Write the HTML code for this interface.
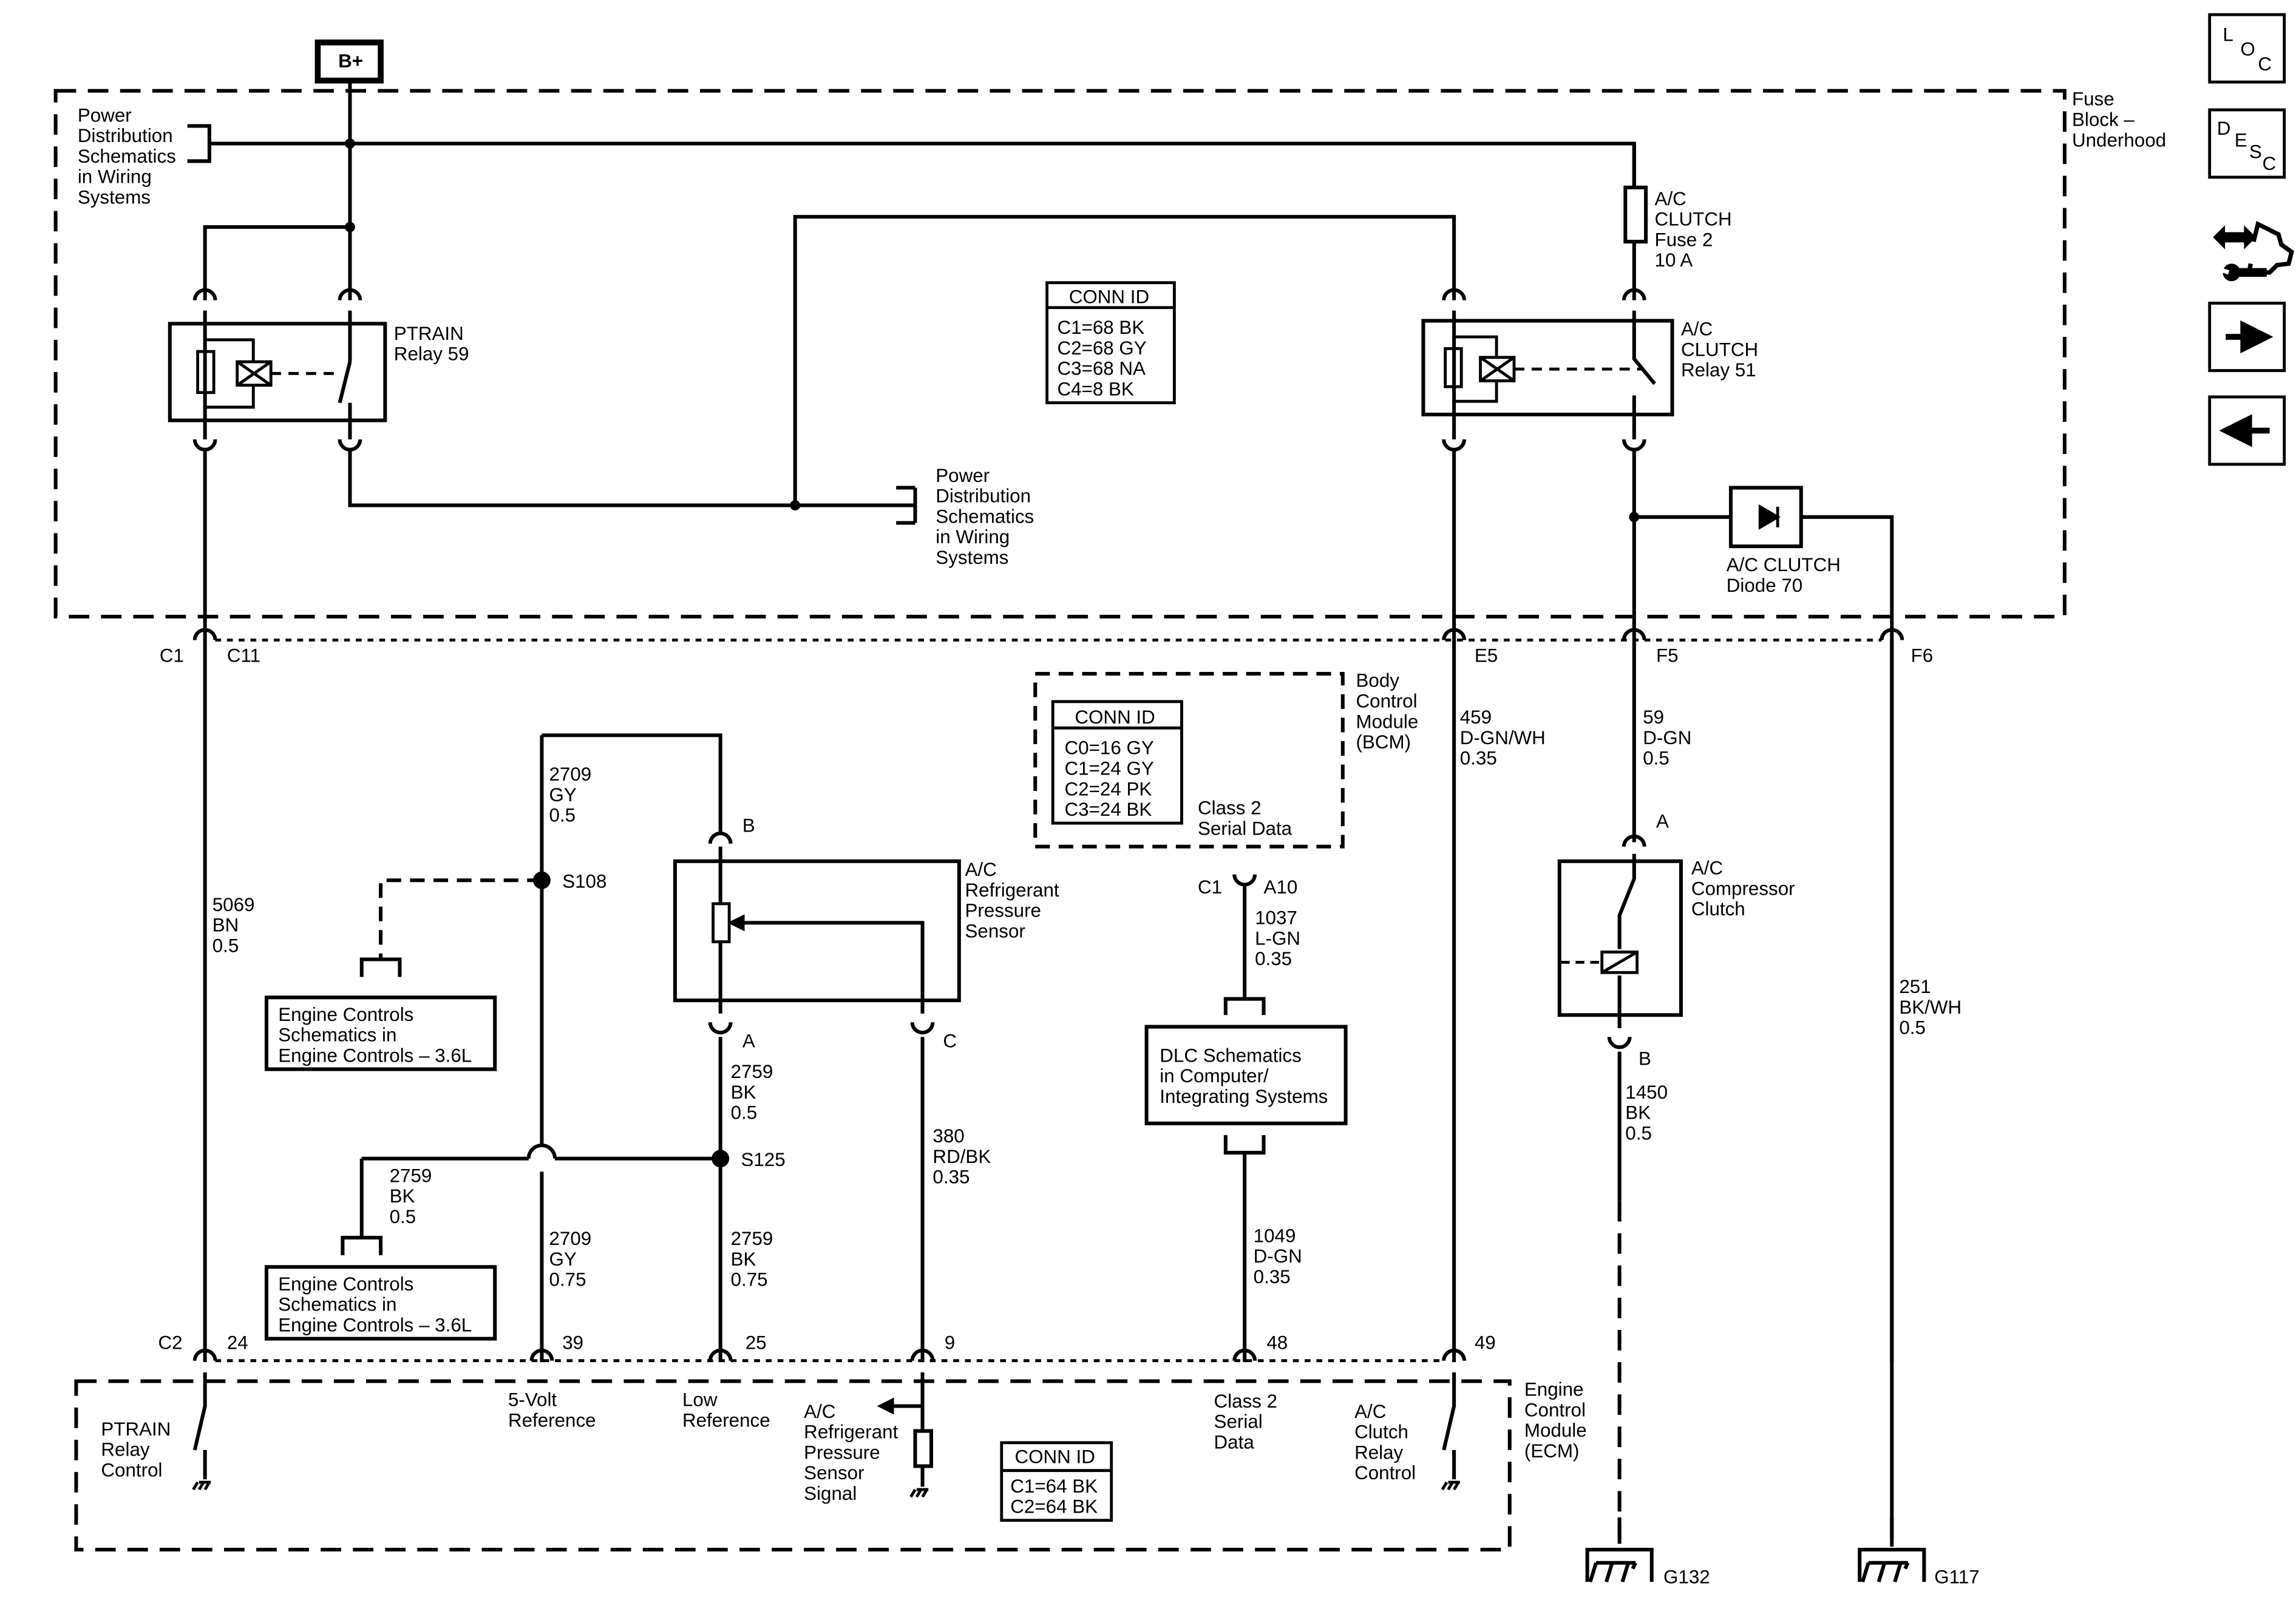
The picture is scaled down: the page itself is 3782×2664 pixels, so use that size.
<!DOCTYPE html>
<html><head><meta charset="utf-8">
<style>
html,body{margin:0;padding:0;background:#fff;}
svg{display:block;}
text{font-family:"Liberation Sans",Arial,sans-serif;font-size:13px;fill:#000;}
</style></head>
<body>
<svg width="3782" height="2664" viewBox="0 0 1568 1104" preserveAspectRatio="none" xmlns="http://www.w3.org/2000/svg">
<defs>
<g id="conT"><path d="M-7 0 a7 7 0 0 1 14 0" fill="none" stroke="#000" stroke-width="2.5"/></g>
<g id="conB"><path d="M-7 0 a7 7 0 0 0 14 0" fill="none" stroke="#000" stroke-width="2.5"/></g>
<g id="gnd"><path d="M-4 0 h8 M-5 0 l-3 5 M-1 0 l-3 5 M3 0 l-3 5" stroke="#000" stroke-width="2" fill="none"/></g>
<g id="bigGnd"><path d="M0 -22 V-8 M-22 22 V0 H22 V22 M-16 9 H11 M-16 9 L-20 22 M-5 9 L-9 22 M6 9 L2 22 M11 9 L9 13" stroke="#000" stroke-width="2.5" fill="none"/></g>
</defs>
<rect width="1568" height="1104" fill="#fff"/>
<g fill="none" stroke="#000" stroke-width="2.5">
<rect x="38" y="62" width="1372" height="359" stroke-dasharray="14,8"/>
<rect x="52" y="943" width="979" height="115" stroke-dasharray="14,8"/>
<rect x="707" y="460" width="210" height="118" stroke-dasharray="10,6"/>
<line x1="147" y1="437" x2="1285" y2="437" stroke-dasharray="4,4" stroke-width="2"/>
<line x1="147" y1="929" x2="986" y2="929" stroke-dasharray="4,4" stroke-width="2"/>
<rect x="217" y="29" width="43" height="26" stroke-width="4"/>
<path d="M239 55 V205"/>
<path d="M143 98 H1116 V128"/>
<path d="M128 86 H143 V110 H128"/>
<path d="M140 205 V155 H239"/>
<rect x="116" y="221" width="147" height="66"/>
<path d="M140 212 V300 M239 212 V245 L239 247 M239 247 L232 275 M239 275 V300"/>
<rect x="135" y="240" width="11" height="28" stroke-width="2"/>
<rect x="162" y="247" width="23" height="16" stroke-width="2"/>
<path d="M162 247 L185 263 M185 247 L162 263" stroke-width="2"/>
<path d="M140 232 V240 M140 268 V278 M140 232 H173 V247 M140 278 H173 V263" stroke-width="2"/>
<path d="M185 255 H232" stroke-dasharray="7,5" stroke-width="2"/>
<path d="M140 308 V930"/>
<path d="M239 308 V345 H625"/>
<path d="M543 345 V148 H993 V205"/>
<path d="M625 333 H612 M625 333 V357 M612 357 H625"/>
<path d="M1116 98 V128"/>
<rect x="1110" y="128" width="14" height="37"/>
<path d="M1116 165 V205"/>
<rect x="972" y="219" width="170" height="64"/>
<path d="M993 212 V300 M1116 212 V245 L1130 262 M1116 270 V300"/>
<rect x="987" y="238" width="11" height="26" stroke-width="2"/>
<rect x="1011" y="244" width="23" height="16" stroke-width="2"/>
<path d="M1011 244 L1034 260 M1034 244 L1011 260" stroke-width="2"/>
<path d="M993 230 V238 M993 264 V274 M993 230 H1022 V244 M993 274 H1022 V260" stroke-width="2"/>
<path d="M1034 252 H1122" stroke-dasharray="7,5" stroke-width="2"/>
<path d="M993 308 V930"/>
<path d="M1116 308 V575"/>
<path d="M1116 353 H1292 V930"/>
<rect x="1182" y="333" width="48" height="40" fill="#fff"/>
<path d="M1214 346 V360 M1214 353 L1202 346 V360 Z" fill="#000" stroke-width="2"/>
<path d="M1292 437 V1056"/>
<rect x="715" y="193" width="87" height="82" stroke-width="2"/>
<line x1="715" y1="210" x2="802" y2="210" stroke-width="2"/>
<rect x="719" y="479" width="88" height="83" stroke-width="2"/>
<line x1="719" y1="497" x2="807" y2="497" stroke-width="2"/>
<path d="M850 603 V682"/>
<path d="M837 693 V682 H863 V693"/>
<rect x="783" y="701" width="136" height="66"/>
<path d="M837 775 V787 H863 V775"/>
<path d="M850 787 V930"/>
<rect x="461" y="588" width="194" height="95"/>
<path d="M370 502 H492 V570"/>
<path d="M492 578 V617 M492 643 V692"/>
<rect x="487" y="617" width="11" height="26" stroke-width="2"/>
<path d="M630 692 V630 H505"/>
<path d="M498 630 L508 625 V635 Z" fill="#000" stroke-width="1"/>
<path d="M370 502 V782 M370 800 V930"/>
<path d="M361 791 a9 9 0 0 1 18 0" />
<path d="M247 791 H361 M379 791 H492"/>
<path d="M492 708 V930 M630 708 V930"/>
<path d="M370 601 H260 V655" stroke-dasharray="10,6"/>
<path d="M247 667 V655 H273 V667"/>
<rect x="182" y="681" width="156" height="49"/>
<path d="M247 791 V845 M234 857 V845 H260 V857"/>
<rect x="182" y="865" width="156" height="49"/>
<rect x="1065" y="588" width="83" height="105"/>
<path d="M1116 583 V600 L1106 625 V648 M1106 666 V702"/>
<rect x="1094" y="650" width="24" height="14" stroke-width="2"/>
<path d="M1094 664 L1118 650" stroke-width="2"/>
<path d="M1066 657 H1094" stroke-dasharray="6,4" stroke-width="2"/>
<path d="M1106 718 V820"/>
<path d="M1106 820 V1056" stroke-dasharray="14,8"/>
<path d="M140 937 V960 L133 990 M140 990 V1010"/>
<path d="M993 937 V960 L986 990 M993 990 V1010"/>
<path d="M630 937 V1015 M630 960 H605"/>
<path d="M600 960 L610 955 V965 Z" fill="#000" stroke-width="1"/>
<rect x="625" y="977" width="11" height="24" fill="#fff"/>
<rect x="684" y="985" width="75" height="53" stroke-width="2"/>
<line x1="684" y1="1004" x2="759" y2="1004" stroke-width="2"/>
<g stroke-width="2">
<rect x="1509" y="10" width="51" height="46"/>
<rect x="1509" y="75" width="51" height="46"/>
<rect x="1509" y="207" width="51" height="46"/>
<rect x="1509" y="271" width="51" height="46"/>
</g>
<path d="M1520 230 H1538 M1532 222 L1548 230 L1532 238 Z" fill="#000" stroke-width="4"/>
<path d="M1550 294 H1532 M1536 286 L1520 294 L1536 302 Z" fill="#000" stroke-width="4"/>
<!-- tools icon -->
<path d="M1539 165 L1542 153 L1556 160 L1558 167 L1565 172 L1563 180 L1555 181 L1550 186 L1536 186 L1537 180" stroke-width="3"/>
<path d="M1512 162 L1519 155 V159 H1533 V155 L1540 162 L1533 169 V165 H1519 V169 Z" fill="#000" stroke-width="1"/>
<path d="M1524 186 H1548" stroke-width="6"/>
<circle cx="1524" cy="186" r="6" fill="#000" stroke="none"/>
<path d="M1516 184 L1522 186" stroke="#fff" stroke-width="3"/>
</g>
<g>
<use href="#conT" x="140" y="205"/><use href="#conT" x="239" y="205"/>
<use href="#conB" x="140" y="300"/><use href="#conB" x="239" y="300"/>
<use href="#conT" x="993" y="205"/><use href="#conT" x="1116" y="205"/>
<use href="#conB" x="993" y="300"/><use href="#conB" x="1116" y="300"/>
<use href="#conT" x="140" y="437"/><use href="#conT" x="993" y="437"/><use href="#conT" x="1116" y="437"/><use href="#conT" x="1292" y="437"/>
<use href="#conT" x="140" y="929"/><use href="#conT" x="370" y="929"/><use href="#conT" x="492" y="929"/><use href="#conT" x="630" y="929"/><use href="#conT" x="850" y="929"/><use href="#conT" x="993" y="929"/>
<use href="#conT" x="492" y="576"/><use href="#conB" x="492" y="698"/><use href="#conB" x="630" y="698"/>
<use href="#conB" x="850" y="597"/>
<use href="#conT" x="1116" y="578"/><use href="#conB" x="1106" y="708"/>
<use href="#gnd" x="140" y="1012"/><use href="#gnd" x="993" y="1012"/><use href="#gnd" x="630" y="1017"/>
<use href="#bigGnd" x="1106" y="1058"/><use href="#bigGnd" x="1292" y="1058"/>
</g>
<circle cx="239" cy="98" r="3.5"/><circle cx="239" cy="155" r="3.5"/>
<circle cx="543" cy="345" r="3.5"/><circle cx="1116" cy="353" r="3.5"/>
<circle cx="370" cy="601" r="6"/><circle cx="492" cy="791" r="6"/>
<text x="231" y="46" font-weight="bold">B+</text>
<text x="53" y="83">Power</text><text x="53" y="97">Distribution</text><text x="53" y="111">Schematics</text><text x="53" y="125">in Wiring</text><text x="53" y="139">Systems</text>
<text x="269" y="232">PTRAIN</text><text x="269" y="246">Relay 59</text>
<text x="639" y="329">Power</text><text x="639" y="343">Distribution</text><text x="639" y="357">Schematics</text><text x="639" y="371">in Wiring</text><text x="639" y="385">Systems</text>
<text x="730" y="207">CONN ID</text>
<text x="722" y="228">C1=68 BK</text><text x="722" y="242">C2=68 GY</text><text x="722" y="256">C3=68 NA</text><text x="722" y="270">C4=8 BK</text>
<text x="1130" y="140">A/C</text><text x="1130" y="154">CLUTCH</text><text x="1130" y="168">Fuse 2</text><text x="1130" y="182">10 A</text>
<text x="1148" y="229">A/C</text><text x="1148" y="243">CLUTCH</text><text x="1148" y="257">Relay 51</text>
<text x="1415" y="72">Fuse</text><text x="1415" y="86">Block –</text><text x="1415" y="100">Underhood</text>
<text x="1179" y="390">A/C CLUTCH</text><text x="1179" y="404">Diode 70</text>
<text x="109" y="452">C1</text><text x="155" y="452">C11</text><text x="1007" y="452">E5</text><text x="1131" y="452">F5</text><text x="1305" y="452">F6</text>
<text x="926" y="469">Body</text><text x="926" y="483">Control</text><text x="926" y="497">Module</text><text x="926" y="511">(BCM)</text>
<text x="734" y="494">CONN ID</text>
<text x="727" y="515">C0=16 GY</text><text x="727" y="529">C1=24 GY</text><text x="727" y="543">C2=24 PK</text><text x="727" y="557">C3=24 BK</text>
<text x="818" y="556">Class 2</text><text x="818" y="570">Serial Data</text>
<text x="997" y="494">459</text><text x="997" y="508">D-GN/WH</text><text x="997" y="522">0.35</text>
<text x="1122" y="494">59</text><text x="1122" y="508">D-GN</text><text x="1122" y="522">0.5</text>
<text x="375" y="533">2709</text><text x="375" y="547">GY</text><text x="375" y="561">0.5</text>
<text x="507" y="568">B</text>
<text x="384" y="606">S108</text>
<text x="659" y="598">A/C</text><text x="659" y="612">Refrigerant</text><text x="659" y="626">Pressure</text><text x="659" y="640">Sensor</text>
<text x="818" y="610">C1</text><text x="863" y="610">A10</text>
<text x="857" y="631">1037</text><text x="857" y="645">L-GN</text><text x="857" y="659">0.35</text>
<text x="1131" y="565">A</text>
<text x="1155" y="597">A/C</text><text x="1155" y="611">Compressor</text><text x="1155" y="625">Clutch</text>
<text x="145" y="622">5069</text><text x="145" y="636">BN</text><text x="145" y="650">0.5</text>
<text x="190" y="697">Engine Controls</text><text x="190" y="711">Schematics in</text><text x="190" y="725">Engine Controls – 3.6L</text>
<text x="507" y="715">A</text><text x="644" y="715">C</text>
<text x="499" y="736">2759</text><text x="499" y="750">BK</text><text x="499" y="764">0.5</text>
<text x="792" y="725">DLC Schematics</text><text x="792" y="739">in Computer/</text><text x="792" y="753">Integrating Systems</text>
<text x="1297" y="678">251</text><text x="1297" y="692">BK/WH</text><text x="1297" y="706">0.5</text>
<text x="1119" y="727">B</text>
<text x="1110" y="750">1450</text><text x="1110" y="764">BK</text><text x="1110" y="778">0.5</text>
<text x="637" y="780">380</text><text x="637" y="794">RD/BK</text><text x="637" y="808">0.35</text>
<text x="506" y="796">S125</text>
<text x="266" y="807">2759</text><text x="266" y="821">BK</text><text x="266" y="835">0.5</text>
<text x="375" y="850">2709</text><text x="375" y="864">GY</text><text x="375" y="878">0.75</text>
<text x="499" y="850">2759</text><text x="499" y="864">BK</text><text x="499" y="878">0.75</text>
<text x="856" y="848">1049</text><text x="856" y="862">D-GN</text><text x="856" y="876">0.35</text>
<text x="190" y="881">Engine Controls</text><text x="190" y="895">Schematics in</text><text x="190" y="909">Engine Controls – 3.6L</text>
<text x="108" y="921">C2</text><text x="155" y="921">24</text><text x="384" y="921">39</text><text x="509" y="921">25</text><text x="645" y="921">9</text><text x="865" y="921">48</text><text x="1007" y="921">49</text>
<text x="1041" y="953">Engine</text><text x="1041" y="967">Control</text><text x="1041" y="981">Module</text><text x="1041" y="995">(ECM)</text>
<text x="69" y="980">PTRAIN</text><text x="69" y="994">Relay</text><text x="69" y="1008">Control</text>
<text x="347" y="960">5-Volt</text><text x="347" y="974">Reference</text>
<text x="466" y="960">Low</text><text x="466" y="974">Reference</text>
<text x="549" y="968">A/C</text><text x="549" y="982">Refrigerant</text><text x="549" y="996">Pressure</text><text x="549" y="1010">Sensor</text><text x="549" y="1024">Signal</text>
<text x="829" y="961">Class 2</text><text x="829" y="975">Serial</text><text x="829" y="989">Data</text>
<text x="925" y="968">A/C</text><text x="925" y="982">Clutch</text><text x="925" y="996">Relay</text><text x="925" y="1010">Control</text>
<text x="693" y="999">CONN ID</text>
<text x="690" y="1019">C1=64 BK</text><text x="690" y="1033">C2=64 BK</text>
<text x="1136" y="1081">G132</text><text x="1321" y="1081">G117</text>
<text x="1518" y="28">L</text><text x="1530" y="38">O</text><text x="1542" y="48">C</text>
<text x="1514" y="92">D</text><text x="1526" y="100">E</text><text x="1536" y="108">S</text><text x="1545" y="116">C</text>
</svg>
</body></html>
